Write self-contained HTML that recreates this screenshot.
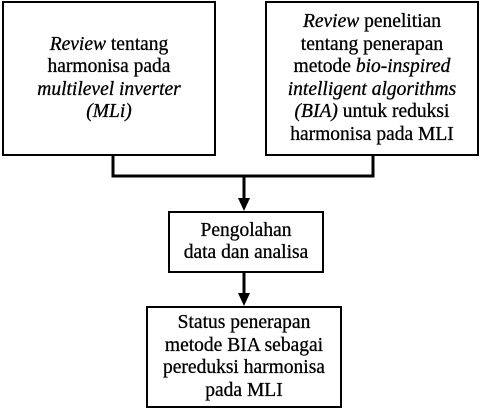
<!DOCTYPE html>
<html><head><style>
body{margin:0;width:480px;height:410px;background:#fff;position:relative;overflow:hidden;font-family:"Liberation Serif",serif;font-size:19.5px;line-height:22.5px;color:#000;-webkit-text-stroke:0.3px #000}
.b{position:absolute;border:2px solid #000;box-sizing:border-box;display:flex;align-items:center;justify-content:center;text-align:center;white-space:nowrap}
svg{position:absolute;left:0;top:0}
</style></head><body>
<svg width="480" height="410">
<g stroke="#000" stroke-width="3" fill="none">
<polyline points="113,155 113,176 373,176 373,155"/>
<line x1="244" y1="176" x2="244" y2="200"/>
<line x1="244" y1="272" x2="244" y2="295"/>
</g>
<polygon points="238,198 250,198 244,211" fill="#000"/>
<polygon points="238,293 250,293 244,306" fill="#000"/>
</svg>
<div class="b" style="left:2px;top:1px;width:214px;height:155px"><div><i>Review</i> tentang<br>harmonisa pada<br><i>multilevel inverter</i><br><i>(MLi)</i></div></div>
<div class="b" style="left:265px;top:1px;width:214px;height:155px"><div><i>Review</i> penelitian<br>tentang penerapan<br>metode <i>bio-inspired</i><br><i>intelligent algorithms</i><br><i>(BIA)</i> untuk reduksi<br>harmonisa pada MLI</div></div>
<div class="b" style="left:168px;top:211px;width:156px;height:62px"><div>Pengolahan<br>data dan analisa</div></div>
<div class="b" style="left:146px;top:306px;width:196px;height:102px"><div>Status penerapan<br>metode BIA sebagai<br>pereduksi harmonisa<br>pada MLI</div></div>
</body></html>
